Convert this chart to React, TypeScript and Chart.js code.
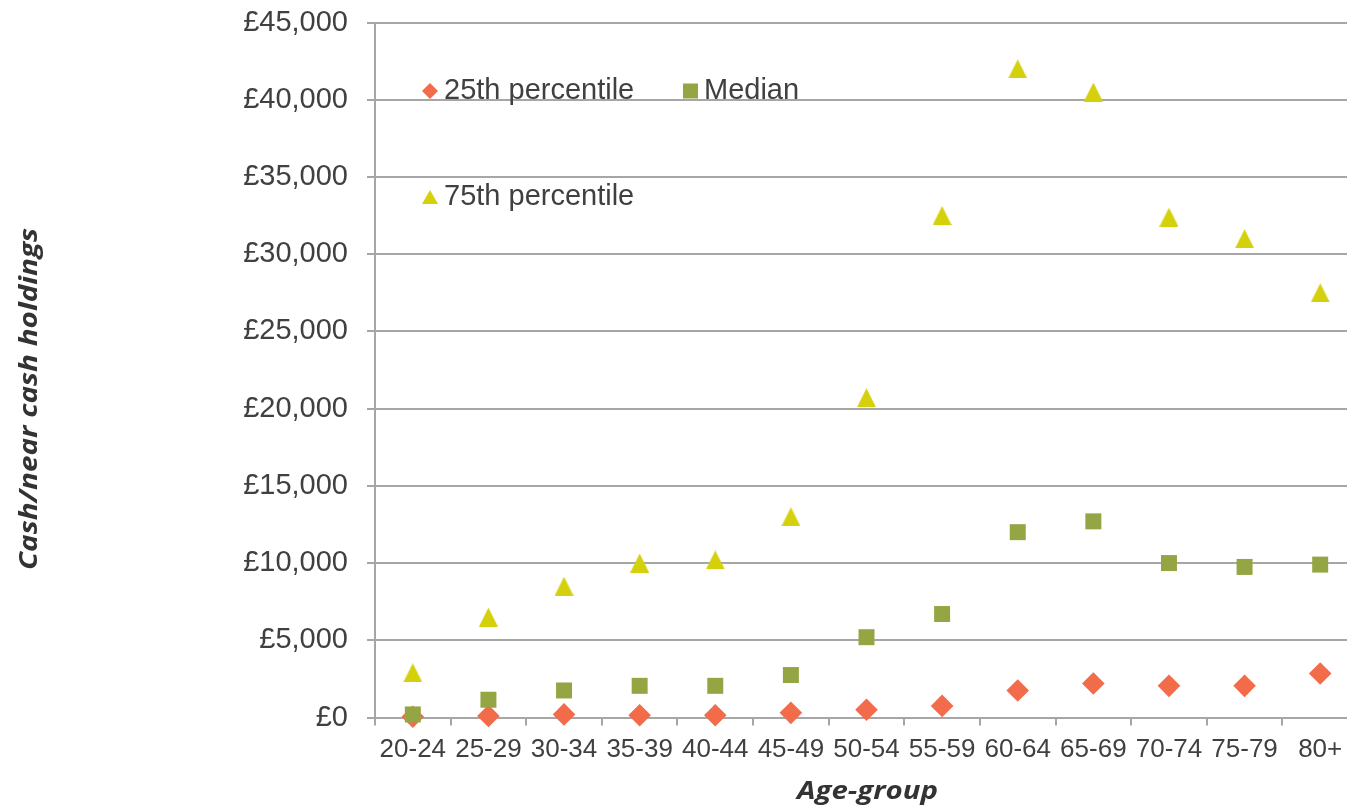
import React, { useEffect, useRef } from "react";
import { Chart, registerables } from "chart.js";

Chart.register(...registerables);

// Age bands on the category axis
const ageGroups = ["20-24", "25-29", "30-34", "35-39", "40-44", "45-49", "50-54", "55-59", "60-64", "65-69", "70-74", "75-79", "80+"];

// Cash / near-cash holdings (GBP) by age band
const p25Values = [50, 100, 200, 150, 150, 300, 500, 750, 1750, 2200, 2050, 2050, 2850];
const medianValues = [200, 1150, 1750, 2050, 2050, 2750, 5200, 6700, 12000, 12700, 10000, 9750, 9900];
const p75Values = [2900, 6500, 8500, 10000, 10200, 13000, 20700, 32500, 42000, 40500, 32400, 31000, 27500];

const seriesLabels = ["25th percentile", "Median", "75th percentile"];
const seriesColors = ["#F26B4B", "#94A544", "#D4D10C"];

const yMin = 0;
const yMax = 45000;
const yStep = 5000;

const yTitle = "Cash/near cash holdings";
const xTitle = "Age-group";

const TEXT = "#404040";
const GRID = "#a6a6a6";
const TICK_FONT = '"Liberation Sans", Arial, sans-serif';
const TITLE_FONT = 'italic bold 24.5px "Open Sans", sans-serif';

const CANVAS_W = 1360;
const CANVAS_H = 811;
const PLOT_LEFT = 375;
const PLOT_RIGHT = 1358;

function makeTriangle(color: string, w: number, h: number): HTMLCanvasElement {
  const c = document.createElement("canvas");
  c.width = w;
  c.height = h;
  const g = c.getContext("2d")!;
  g.fillStyle = color;
  g.beginPath();
  g.moveTo(w / 2, 0);
  g.lineTo(w, h);
  g.lineTo(0, h);
  g.closePath();
  g.fill();
  return c;
}

// draws a title widened along its reading direction to a given length
function drawWideText(ctx: CanvasRenderingContext2D, text: string, length: number) {
  const w = ctx.measureText(text).width;
  ctx.save();
  ctx.scale(length / w, 1);
  ctx.fillText(text, 0, 0);
  ctx.restore();
}

// pins the plot's horizontal extent after the automatic layout
const plotBoundsPlugin = {
  id: "plotBounds",
  afterLayout(chart: any) {
    const area = chart.chartArea;
    area.left = PLOT_LEFT;
    area.right = PLOT_RIGHT;
    area.width = PLOT_RIGHT - PLOT_LEFT;
    const x = chart.scales.x;
    x.left = PLOT_LEFT;
    x.right = PLOT_RIGHT;
    x.width = PLOT_RIGHT - PLOT_LEFT;
    x.configure();
    const y = chart.scales.y;
    y.left = 0;
    y.right = PLOT_LEFT;
    y.width = PLOT_LEFT;
  },
};

// Legend laid out inside the plot, plus the two axis titles
const overlayPlugin = {
  id: "overlayText",
  afterDraw(chart: any) {
    const ctx: CanvasRenderingContext2D = chart.ctx;
    const area = chart.chartArea;
    ctx.save();

    ctx.font = `29px ${TICK_FONT}`;
    ctx.textBaseline = "alphabetic";
    ctx.textAlign = "left";

    // 25th percentile: diamond
    ctx.fillStyle = seriesColors[0];
    ctx.beginPath();
    ctx.moveTo(430 - 8, 91);
    ctx.lineTo(430, 91 - 8);
    ctx.lineTo(430 + 8, 91);
    ctx.lineTo(430, 91 + 8);
    ctx.closePath();
    ctx.fill();
    ctx.fillStyle = TEXT;
    ctx.fillText(seriesLabels[0], 444, 99);

    // Median: square
    ctx.fillStyle = seriesColors[1];
    ctx.fillRect(683, 83.5, 15, 15);
    ctx.fillStyle = TEXT;
    ctx.fillText(seriesLabels[1], 704, 99);

    // 75th percentile: triangle
    ctx.fillStyle = seriesColors[2];
    ctx.beginPath();
    ctx.moveTo(430, 190);
    ctx.lineTo(438, 204);
    ctx.lineTo(422, 204);
    ctx.closePath();
    ctx.fill();
    ctx.fillStyle = TEXT;
    ctx.fillText(seriesLabels[2], 444, 205);

    // axis titles
    ctx.font = TITLE_FONT;
    ctx.fillStyle = "#333333";
    ctx.textAlign = "center";

    ctx.save();
    ctx.translate((area.left + area.right) / 2 + 1, 799);
    drawWideText(ctx, xTitle, 141);
    ctx.restore();

    ctx.save();
    ctx.translate(37, 399);
    ctx.rotate(-Math.PI / 2);
    drawWideText(ctx, yTitle, 342);
    ctx.restore();

    ctx.restore();
  },
};

export default function App() {
  const canvasRef = useRef<HTMLCanvasElement | null>(null);

  useEffect(() => {
    if (!canvasRef.current) return;
    const triangle = makeTriangle(seriesColors[2], 19, 19);

    const chart = new Chart(canvasRef.current, {
      type: "line",
      data: {
        labels: ageGroups,
        datasets: [
          {
            label: seriesLabels[0],
            data: p25Values,
            showLine: false,
            pointStyle: "rectRot",
            pointRadius: 11.3,
            pointBackgroundColor: seriesColors[0],
            pointBorderWidth: 0,
            borderColor: seriesColors[0],
            backgroundColor: seriesColors[0],
            clip: false,
            order: 3,
          },
          {
            label: seriesLabels[1],
            data: medianValues,
            showLine: false,
            pointStyle: "rect",
            pointRadius: 11.3,
            pointBackgroundColor: seriesColors[1],
            pointBorderWidth: 0,
            borderColor: seriesColors[1],
            backgroundColor: seriesColors[1],
            clip: false,
            order: 2,
          },
          {
            label: seriesLabels[2],
            data: p75Values,
            showLine: false,
            pointStyle: triangle as any,
            pointRadius: 10,
            pointBackgroundColor: seriesColors[2],
            pointBorderWidth: 0,
            borderColor: seriesColors[2],
            backgroundColor: seriesColors[2],
            clip: false,
            order: 1,
          },
        ],
      },
      options: {
        responsive: false,
        animation: false,
        devicePixelRatio: 1,
        layout: { padding: { top: 22.5, right: 2, bottom: 0, left: 0 } },
        plugins: {
          legend: { display: false },
          tooltip: { enabled: false },
        },
        scales: {
          x: {
            type: "category",
            offset: true,
            grid: {
              offset: true,
              drawOnChartArea: false,
              drawTicks: true,
              tickLength: 8,
              color: GRID,
              lineWidth: 2,
            },
            border: { display: true, color: GRID, width: 2 },
            ticks: {
              autoSkip: false,
              maxRotation: 0,
              minRotation: 0,
              padding: 8.5,
              color: TEXT,
              font: { family: TICK_FONT, size: 26 },
            },
            afterFit: (scale: any) => {
              scale.height = 93.5;
              scale.paddingLeft = 0;
              scale.paddingRight = 0;
            },
          },
          y: {
            min: yMin,
            max: yMax,
            grid: {
              color: GRID,
              lineWidth: 2,
              drawTicks: true,
              tickLength: 8,
            },
            border: { display: true, color: GRID, width: 2 },
            ticks: {
              stepSize: yStep,
              padding: 19,
              color: TEXT,
              font: { family: TICK_FONT, size: 29 },
              callback: (v: any) => "£" + Number(v).toLocaleString("en-GB"),
            },
            afterFit: (scale: any) => {
              scale.width = PLOT_LEFT;
              scale.paddingTop = 0;
              scale.paddingBottom = 0;
            },
          },
        },
      },
      plugins: [plotBoundsPlugin, overlayPlugin],
    });

    return () => chart.destroy();
  }, []);

  return (
    <div style={{ position: "absolute", left: 0, top: 0, width: 1347, height: 811, overflow: "hidden", background: "#ffffff" }}>
      <div style={{ position: "relative", width: CANVAS_W, height: CANVAS_H }}>
        <canvas ref={canvasRef} width={CANVAS_W} height={CANVAS_H} style={{ display: "block", width: CANVAS_W, height: CANVAS_H }} />
      </div>
    </div>
  );
}
